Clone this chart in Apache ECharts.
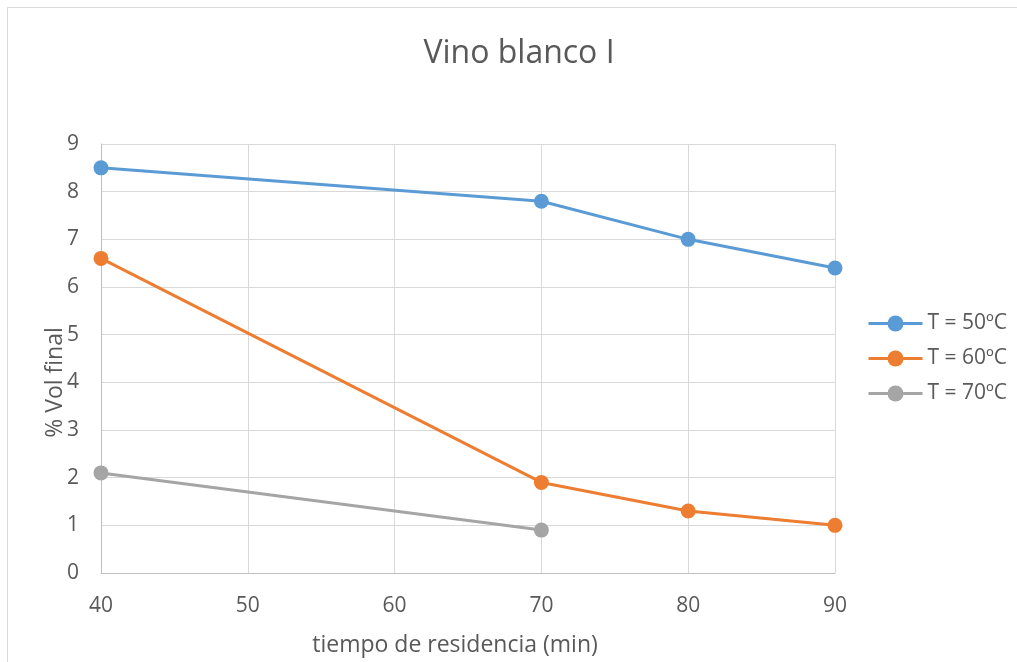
<!DOCTYPE html>
<html>
<head>
<meta charset="utf-8">
<script src="https://cdn.jsdelivr.net/npm/echarts@6/dist/echarts.min.js"></script>
<style>
html,body{margin:0;padding:0;background:#fff;}
#chart{width:1017px;height:662px;}
</style>
</head>
<body>
<div id="chart"></div>
<script>
const title = 'Vino blanco I';
const xName = 'tiempo de residencia (min)';
const yName = '% Vol final';
const seriesNames = ['T = 50ºC', 'T = 60ºC', 'T = 70ºC'];
const colors = ['#5b9bd5', '#ed7d31', '#a5a5a5'];
const x50 = [40, 70, 80, 90];
const y50 = [8.5, 7.8, 7.0, 6.4];
const x60 = [40, 70, 80, 90];
const y60 = [6.6, 1.9, 1.3, 1.0];
const x70 = [40, 70];
const y70 = [2.1, 0.9];

const pairs = (xs, ys) => xs.map((x, i) => [x, ys[i]]);
const seriesData = [pairs(x50, y50), pairs(x60, y60), pairs(x70, y70)];

const font = '"Open Sans", sans-serif';
const chart = echarts.init(document.getElementById('chart'));
chart.setOption({
  animation: false,
  backgroundColor: '#fff',
  color: colors,
  title: {
    text: title, left: 514, top: 33, textAlign: 'center',
    textStyle: {fontFamily: font, fontSize: 32, fontWeight: 'normal', color: '#595959'}
  },
  graphic: [{
    type: 'rect', shape: {x: 7.5, y: 7.5, width: 1100, height: 700},
    style: {fill: 'none', stroke: '#d9d9d9', lineWidth: 1}, silent: true
  }],
  legend: {
    orient: 'vertical', left: 862, top: 308, itemGap: 14,
    itemWidth: 54, itemHeight: 20,
    lineStyle: {width: 3},
    textStyle: {fontFamily: font, fontSize: 21, color: '#595959', padding: [0, 0, 0, 0]},
    data: seriesNames
  },
  grid: {left: 101, right: 182, top: 144, bottom: 89},
  xAxis: {
    type: 'value', min: 40, max: 90, interval: 10,
    name: xName, nameLocation: 'middle', nameGap: 61, nameMoveOverlap: false,
    nameTextStyle: {fontFamily: font, fontSize: 23, color: '#595959', padding: [0, 26, 0, 0]},
    axisLine: {show: true, lineStyle: {color: '#bfbfbf', width: 1}},
    axisTick: {show: false},
    axisLabel: {fontFamily: font, fontSize: 21, color: '#595959', margin: 23},
    splitLine: {show: true, lineStyle: {color: '#d9d9d9', width: 1}}
  },
  yAxis: {
    type: 'value', min: 0, max: 9, interval: 1,
    name: yName, nameLocation: 'middle', nameGap: 34, nameMoveOverlap: false,
    nameTextStyle: {fontFamily: font, fontSize: 23, color: '#595959', padding: [0, 48, 0, 0]},
    axisLine: {show: true, lineStyle: {color: '#bfbfbf', width: 1}},
    axisTick: {show: false},
    axisLabel: {fontFamily: font, fontSize: 21, color: '#595959', margin: 22},
    splitLine: {show: true, lineStyle: {color: '#d9d9d9', width: 1}}
  },
  series: seriesNames.map((n, i) => ({
    name: n, type: 'line', data: seriesData[i],
    symbol: 'circle', symbolSize: 15,
    lineStyle: {width: 3, color: colors[i]},
    itemStyle: {color: colors[i]}
  }))
});
</script>
</body>
</html>
